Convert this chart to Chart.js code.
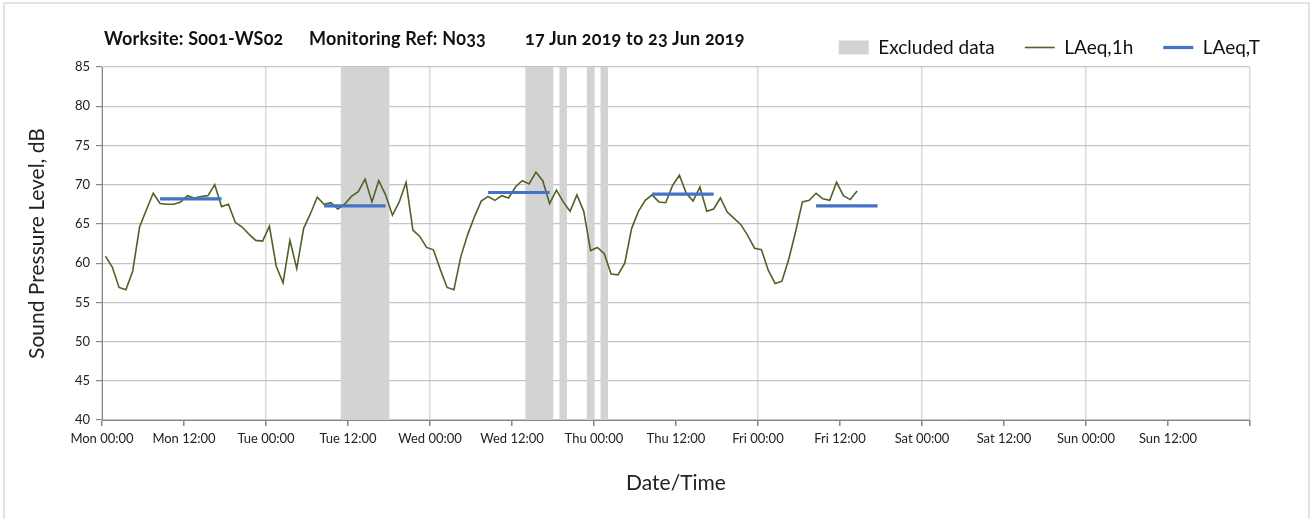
<!DOCTYPE html>
<html>
<head>
<meta charset="utf-8">
<script src="https://cdn.jsdelivr.net/npm/chart.js@4.4.1/dist/chart.umd.min.js"></script>
<style>
  html, body { margin: 0; padding: 0; background: #ffffff; }
  #wrap { position: relative; width: 1314px; height: 519px; overflow: hidden; }
  #frame { position: absolute; left: 3px; top: 2px; width: 1307px; height: 530px; border: 2px solid #e3e3e3; box-sizing: border-box; }
  #chart { position: absolute; left: 0; top: 0; }
  .ttl { position: absolute; top: 26px; font-family: Lato, "Open Sans", sans-serif; font-weight: 700; font-size: 18px; letter-spacing: 0.2px; color: #111; white-space: pre; font-variant-numeric: oldstyle-nums; font-feature-settings: "onum" 1; line-height: 24px; }
</style>
</head>
<body>
<div id="wrap">
  <div id="frame"></div>
  <canvas id="chart" width="1314" height="519"></canvas>
  <span class="ttl" style="left:104px">Worksite: S001-WS02</span>
  <span class="ttl" style="left:309px">Monitoring Ref: N033</span>
  <span class="ttl" style="left:525px">17 Jun 2019 to 23 Jun 2019</span>
</div>
<script>
// ---- data (hour 0 = Mon 00:00) ----
const tickLabels = ['Mon 00:00','Mon 12:00','Tue 00:00','Tue 12:00','Wed 00:00','Wed 12:00','Thu 00:00','Thu 12:00','Fri 00:00','Fri 12:00','Sat 00:00','Sat 12:00','Sun 00:00','Sun 12:00'];
const monLevels = [60.9,59.5,56.9,56.6,59.0,64.6,66.8,68.9,67.6,67.5,67.5,67.8,68.6,68.3,68.5,68.6,70.0,67.2,67.5,65.2,64.6,63.7,62.9,62.8];
const tueLevels = [64.7,59.6,57.5,62.9,59.3,64.4,66.3,68.4,67.5,67.7,66.9,67.5,68.5,69.1,70.7,67.8,70.5,68.7,66.1,67.8,70.3,64.2,63.4,62.0];
const wedLevels = [61.7,59.2,56.9,56.6,60.8,63.6,65.9,67.9,68.5,68.0,68.6,68.3,69.7,70.5,70.1,71.6,70.5,67.6,69.3,67.8,66.6,68.7,66.6,61.6];
const thuLevels = [62.0,61.2,58.6,58.5,60.0,64.4,66.6,68.0,68.7,67.8,67.7,69.9,71.2,68.9,67.9,69.7,66.6,66.9,68.3,66.5,65.7,64.9,63.5,61.9];
const friLevels = [61.7,59.1,57.4,57.7,60.5,64.0,67.8,68.0,68.9,68.2,68.0,70.3,68.6,68.1,69.2];
const excludedHours = [35,36,37,38,39,40,41,62,63,64,65,67,71,73];
const laeqTStart = [8,32,56,80,104];
const laeqTEnd = [17,41,65,89,113];
const laeqTValues = [68.2,67.3,69.0,68.8,67.3];
const yMin = 40, yMax = 85;

// ---- build datasets ----
const hourly = [].concat(monLevels, tueLevels, wedLevels, thuLevels, friLevels);
const hourlyPts = hourly.map((v, i) => ({ x: i + 0.5, y: v }));
const excludedPts = excludedHours.map(h => ({ x: h + 0.5, y: [yMin, yMax] }));
const laeqTPts = [];
laeqTValues.forEach((v, k) => {
  laeqTPts.push({ x: laeqTStart[k] + 0.5, y: v });
  laeqTPts.push({ x: laeqTEnd[k] + 0.5, y: v });
  laeqTPts.push({ x: laeqTEnd[k] + 1, y: null });
});

const FONT = 'Lato, "Open Sans", sans-serif';
const AX = '#868686';

new Chart(document.getElementById('chart'), {
  type: 'line',
  data: {
    datasets: [
      { type: 'bar', label: 'Excluded data', data: excludedPts, backgroundColor: '#d3d3d3', borderWidth: 0,
        barPercentage: 1, categoryPercentage: 1, order: 3 },
      { label: 'LAeq,1h', data: hourlyPts, borderColor: '#4f6228', borderWidth: 1.6, pointRadius: 0, tension: 0, fill: false, order: 2 },
      { label: 'LAeq,T', data: laeqTPts, borderColor: '#4472c4', borderWidth: 3.2, pointRadius: 0, spanGaps: false, fill: false, borderCapStyle: 'butt', order: 1 }
    ]
  },
  options: {
    responsive: false,
    animation: false,
    devicePixelRatio: 1,
    layout: { padding: { left: 0, right: 24, top: 0, bottom: 0 } },
    plugins: {
      tooltip: { enabled: false },
      title: { display: false },
      legend: {
        display: true,
        position: 'top',
        align: 'end',
        labels: {
          usePointStyle: true,
          pointStyleWidth: 30,
          boxHeight: 14,
          padding: 30,
          color: '#111',
          font: { family: FONT, size: 19 },
          generateLabels: (chart) => chart.data.datasets.map((ds, i) => ({
            text: ds.label,
            datasetIndex: i,
            hidden: false,
            fillStyle: ds.type === 'bar' ? ds.backgroundColor : 'rgba(0,0,0,0)',
            strokeStyle: ds.type === 'bar' ? ds.backgroundColor : ds.borderColor,
            lineWidth: ds.type === 'bar' ? 0 : ds.borderWidth,
            pointStyle: ds.type === 'bar' ? 'rect' : 'line',
            fontColor: '#111'
          }))
        }
      }
    },
    scales: {
      x: {
        type: 'linear',
        min: 0, max: 168,
        offset: false,
        afterFit: (s) => { s.height = 99; s.paddingRight = 64; },
        border: { display: true, color: AX, width: 1 },
        grid: {
          offset: false,
          color: (c) => (c.tick && c.tick.value % 24 === 0) ? '#d9d9d9' : 'rgba(0,0,0,0)',
          lineWidth: 1.5,
          tickColor: AX,
          tickLength: 6,
          drawTicks: true
        },
        ticks: {
          stepSize: 12,
          autoSkip: false,
          maxRotation: 0,
          padding: 5,
          color: '#222',
          font: { family: FONT, size: 13 },
          callback: (v) => tickLabels[v / 12] !== undefined ? tickLabels[v / 12] : ''
        },
        title: { display: true, text: 'Date/Time', color: '#222', font: { family: FONT, size: 21 }, padding: { top: 0, bottom: 23 } }
      },
      y: {
        min: yMin, max: yMax,
        afterFit: (s) => { s.width = 102; s.paddingTop = 67; },
        border: { display: true, color: AX, width: 1 },
        grid: { color: '#c4c4c4', lineWidth: 1.2, tickColor: AX, tickLength: 6 },
        ticks: { stepSize: 5, padding: 6, color: '#222', font: { family: FONT, size: 13 } },
        title: { display: true, text: 'Sound Pressure Level, dB', color: '#222', font: { family: FONT, size: 21 }, padding: { top: 25, bottom: 0 } }
      }
    }
  }
});
</script>
</body>
</html>
